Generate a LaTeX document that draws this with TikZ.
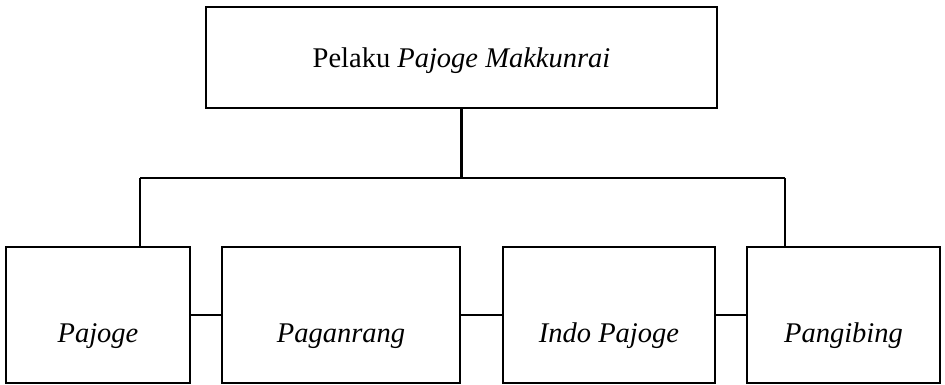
\documentclass[tikz,border=0pt]{standalone}
\usepackage{fontspec}
\setmainfont{Liberation Serif}
\usepackage{tikz}

\tikzset{
  kotak/.style={draw, line width=2.2pt, rectangle, inner sep=0pt, minimum height=136pt, text height=54pt, text depth=0pt},
  garis/.style={line width=2.2pt}
}

\begin{document}
\begin{tikzpicture}[x=1pt,y=-1pt]
\useasboundingbox (0,0) rectangle (945,385);
\fontsize{28.5}{34}\selectfont

\node [draw, line width=2.2pt, inner sep=0pt, minimum width=511pt, minimum height=101pt, text height=21pt, text depth=0pt] (pelaku) at (461.5,57.5) {Pelaku \textit{Pajoge Makkunrai}};

\node [kotak, minimum width=184pt] (pajoge) at (98,315) {\textit{Pajoge}};
\node [kotak, minimum width=238pt] (paganrang) at (341,315) {\textit{Paganrang}};
\node [kotak, minimum width=212pt] (indo) at (609,315) {\textit{Indo Pajoge}};
\node [kotak, minimum width=193pt] (pangibing) at (843.5,315) {\textit{Pangibing}};

\coordinate (jl) at (140,178);
\coordinate (jr) at (785,178);

\draw [garis] (pelaku.south) -- (pelaku.south |- jl);
\draw [garis] (jl) -- (jr);
\draw [garis] (jl) -- (jl |- pajoge.north);
\draw [garis] (jr) -- (jr |- pangibing.north);

\draw [garis] (pajoge.east) -- (paganrang.west);
\draw [garis] (paganrang.east) -- (indo.west);
\draw [garis] (indo.east) -- (pangibing.west);
\end{tikzpicture}
\end{document}
